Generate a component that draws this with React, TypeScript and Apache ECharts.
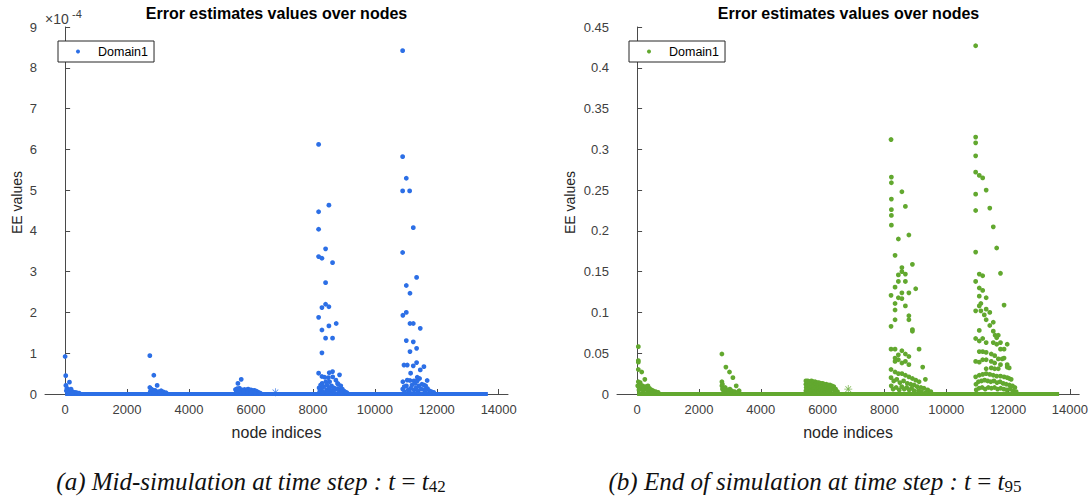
import React, { useEffect, useRef } from "react";
import * as echarts from "echarts";

// ---------- data ----------
const chartTitle = "Error estimates values over nodes";
const xAxisName = "node indices";
const yAxisName = "EE values";
const legendName = "Domain1";
const xTickValues = [0, 2000, 4000, 6000, 8000, 10000, 12000, 14000];
const xRange = [-650, 14300];
const midYRange = [0, 9]; // in units of 1e-4
const midYStep = 1;
const endYRange = [0, 0.45];
const endYStep = 0.05;
const baselineNodes = [0, 13650]; // first / last node index; EE ~ 0 between

// (a) mid-simulation, values x 1e-4
const midNearStart = [
  [0, 0.92], [20, 0.45], [25, 0.21], [140, 0.29], [60, 0.14], [110, 0.1], [170, 0.08], [210, 0.06],
  [260, 0.05], [320, 0.04], [90, 0.06], [40, 0.08], [130, 0.04], [380, 0.03], [450, 0.02], [190, 0.12], [230, 0.03],
];
const midNear2700 = [
  [2735, 0.94], [2864, 0.46], [2971, 0.21], [2735, 0.16], [2760, 0.07], [2810, 0.1], [2900, 0.09], [3010, 0.06],
  [3100, 0.08], [3180, 0.05], [3260, 0.03], [2745, 0.04], [2850, 0.04], [3050, 0.03], [2780, 0.12],
];
const midNear6000 = [
  [5579, 0.26], [5686, 0.36], [5500, 0.11], [5530, 0.07], [5560, 0.13], [5632, 0.14], [5660, 0.08], [5720, 0.1],
  [5793, 0.11], [5830, 0.08], [5868, 0.1], [5910, 0.12], [5950, 0.09], [6000, 0.1], [6061, 0.08], [6110, 0.09],
  [6168, 0.07], [6220, 0.05], [5600, 0.05], [5700, 0.04], [5760, 0.06], [5900, 0.05], [5980, 0.04], [6040, 0.05],
  [6130, 0.04], [6260, 0.03], [6300, 0.02], [5520, 0.03],
];
const midNear8500 = [
  [8185, 6.12], [8517, 4.63], [8185, 4.47], [8185, 4.04], [8410, 3.56], [8185, 3.37], [8292, 3.33], [8635, 3.22],
  [8410, 2.73], [8410, 2.2], [8517, 2.14], [8292, 2.12], [8185, 1.88], [8753, 1.73], [8517, 1.67], [8292, 1.57],
  [8410, 1.37], [8635, 1.37], [8292, 1.01],
  [8185, 0.51], [8527, 0.52], [8635, 0.55], [8860, 0.47], [8292, 0.43], [8380, 0.41], [8500, 0.4], [8640, 0.42],
  [8742, 0.34], [8300, 0.26], [8420, 0.3], [8540, 0.3], [8796, 0.26], [8250, 0.22], [8460, 0.22], [8600, 0.2],
  [8820, 0.24], [8900, 0.2], [8200, 0.15], [8280, 0.12], [8350, 0.18], [8440, 0.1], [8520, 0.14], [8580, 0.09],
  [8680, 0.15], [8740, 0.11], [8800, 0.13], [8880, 0.09], [8950, 0.12], [9000, 0.07], [9050, 0.05], [9100, 0.03],
  [8220, 0.06], [8330, 0.05], [8480, 0.06], [8660, 0.05], [8850, 0.04], [8930, 0.05],
];
const midNear11000 = [
  [10898, 8.42], [10898, 5.82], [11016, 5.29], [10898, 4.98], [11124, 4.98], [11242, 4.08], [10898, 3.47],
  [11349, 2.86], [11016, 2.66], [11135, 2.47], [11016, 2.0], [10905, 1.93], [11135, 1.73], [11242, 1.73],
  [11467, 1.61], [11016, 1.31], [11242, 1.28], [11349, 1.12], [11135, 1.04],
  [10941, 0.71], [11048, 0.71], [11241, 0.69], [11349, 0.77], [11585, 0.67], [11467, 0.59], [11156, 0.51],
  [11370, 0.41], [11445, 0.38], [11048, 0.34], [11263, 0.32], [11370, 0.32], [10905, 0.3], [11135, 0.33],
  [11690, 0.33], [11585, 0.22], [11640, 0.2], [11020, 0.2], [11200, 0.22], [11300, 0.26], [11420, 0.2],
  [11520, 0.24], [10900, 0.12], [10950, 0.18], [11080, 0.1], [11160, 0.14], [11260, 0.1], [11330, 0.15],
  [11400, 0.08], [11500, 0.12], [11600, 0.1], [11700, 0.13], [11760, 0.08], [11820, 0.06], [11900, 0.04],
  [10960, 0.06], [11120, 0.05], [11380, 0.05], [11620, 0.05],
];
const midStar = [[6790, 0.04]];

// (b) end of simulation
const endNearStart = [
  [40, 0.058], [40, 0.041], [40, 0.039], [40, 0.03], [150, 0.027], [40, 0.015], [100, 0.014], [250, 0.018],
  [350, 0.01], [180, 0.01], [80, 0.008], [140, 0.006], [220, 0.007], [300, 0.006], [400, 0.007], [460, 0.005],
  [520, 0.004], [600, 0.003], [680, 0.002], [20, 0.01], [60, 0.005], [120, 0.011], [200, 0.004], [280, 0.009],
  [340, 0.004], [420, 0.003], [480, 0.002],
];
const endNear2700 = [
  [2743, 0.049], [2872, 0.033], [2989, 0.027], [3099, 0.02], [3206, 0.01], [2743, 0.015], [2743, 0.01],
  [2760, 0.006], [2800, 0.004], [2850, 0.008], [2900, 0.005], [2950, 0.003], [3000, 0.006], [3060, 0.004],
  [3150, 0.003], [3300, 0.004], [3250, 0.002], [2760, 0.012],
];
const endNear6000 = [
  [5460, 0.016], [5460, 0.012], [5470, 0.008], [5460, 0.004], [5520, 0.016], [5530, 0.013], [5520, 0.009],
  [5510, 0.005], [5580, 0.015], [5590, 0.011], [5580, 0.007], [5570, 0.003], [5640, 0.016], [5650, 0.012],
  [5640, 0.008], [5630, 0.004], [5700, 0.015], [5710, 0.01], [5700, 0.006], [5760, 0.015], [5770, 0.012],
  [5760, 0.007], [5750, 0.003], [5820, 0.014], [5830, 0.01], [5820, 0.005], [5880, 0.014], [5890, 0.011],
  [5880, 0.007], [5870, 0.003], [5940, 0.013], [5950, 0.009], [5940, 0.005], [6000, 0.013], [6010, 0.01],
  [6000, 0.006], [5990, 0.003], [6060, 0.012], [6070, 0.008], [6060, 0.004], [6120, 0.012], [6130, 0.009],
  [6120, 0.005], [6180, 0.011], [6190, 0.007], [6180, 0.003], [6240, 0.011], [6250, 0.008], [6240, 0.004],
  [6300, 0.01], [6310, 0.006], [6360, 0.009], [6370, 0.005], [6420, 0.006], [6430, 0.003], [6480, 0.003],
];
const endNear8500 = [
  [8214, 0.312], [8225, 0.266], [8225, 0.259], [8565, 0.248], [8225, 0.239], [8678, 0.23], [8225, 0.226],
  [8225, 0.219], [8225, 0.207], [8791, 0.195], [8451, 0.19], [8344, 0.17], [8905, 0.159], [8565, 0.155],
  [8565, 0.15], [8678, 0.147], [8451, 0.146], [8451, 0.138], [8678, 0.138], [8344, 0.131], [9012, 0.129],
  [8565, 0.124], [8791, 0.124], [8214, 0.121], [8451, 0.118], [8565, 0.117], [8344, 0.111], [8678, 0.108],
  [8344, 0.103], [8791, 0.096], [8791, 0.091], [8344, 0.091], [8214, 0.083], [8905, 0.079], [8905, 0.077],
  [8214, 0.055], [8344, 0.055], [9121, 0.055], [8565, 0.053], [8678, 0.049], [8451, 0.048], [8791, 0.046],
  [8344, 0.044], [8451, 0.042], [8678, 0.04], [8344, 0.04], [8565, 0.038], [8791, 0.036], [9238, 0.033],
  [8214, 0.03], [8344, 0.027], [8451, 0.025], [8565, 0.025], [8678, 0.023], [8791, 0.021], [8905, 0.019],
  [9012, 0.017], [9121, 0.015], [9325, 0.018], [8214, 0.02], [8300, 0.016], [8400, 0.018], [8500, 0.014],
  [8620, 0.016], [8740, 0.013], [8850, 0.012], [8960, 0.011], [9060, 0.009], [9180, 0.008], [9280, 0.007],
  [9400, 0.005], [9500, 0.003], [8220, 0.01], [8280, 0.006], [8380, 0.008], [8480, 0.005], [8560, 0.009],
  [8640, 0.006], [8720, 0.008], [8800, 0.005], [8880, 0.007], [8960, 0.004], [9100, 0.004], [9200, 0.003],
  [9350, 0.002],
];
const endNear11000 = [
  [10951, 0.427], [10951, 0.315], [10951, 0.308], [10951, 0.292], [10951, 0.272], [11068, 0.268],
  [11178, 0.265], [11291, 0.25], [10951, 0.245], [11408, 0.228], [10951, 0.225], [11521, 0.205],
  [11631, 0.179], [10951, 0.174], [11754, 0.148], [11068, 0.147], [11178, 0.145], [10951, 0.138],
  [11068, 0.13], [11178, 0.127], [11068, 0.12], [11291, 0.118], [11120, 0.111], [11068, 0.108],
  [11291, 0.104], [10951, 0.102], [11120, 0.102], [11408, 0.1], [11230, 0.097], [11291, 0.091],
  [11870, 0.109], [11521, 0.088], [11408, 0.084], [11521, 0.077], [11068, 0.078], [11580, 0.072],
  [11683, 0.072], [11631, 0.069], [10951, 0.068], [11068, 0.065], [11178, 0.068], [11291, 0.063],
  [11521, 0.063], [11631, 0.061], [11754, 0.063], [11971, 0.061], [11754, 0.055], [11870, 0.055],
  [11068, 0.052], [11178, 0.052], [11291, 0.051], [11456, 0.049], [11566, 0.047], [11683, 0.043],
  [11809, 0.043], [11870, 0.044], [10951, 0.04], [11068, 0.039], [11178, 0.042], [11291, 0.042],
  [11456, 0.04], [11566, 0.038], [11754, 0.036], [11971, 0.036], [11291, 0.031], [11456, 0.032],
  [11566, 0.031], [11683, 0.031], [11971, 0.033], [12036, 0.032], [10951, 0.021], [11068, 0.023],
  [11178, 0.024], [11291, 0.025], [11408, 0.024], [11521, 0.023], [11631, 0.022], [11754, 0.022],
  [11870, 0.021], [11971, 0.02], [12036, 0.019], [12100, 0.018], [10960, 0.012], [11040, 0.015],
  [11140, 0.016], [11240, 0.017], [11340, 0.016], [11440, 0.015], [11540, 0.016], [11640, 0.014],
  [11740, 0.015], [11840, 0.013], [11940, 0.012], [12040, 0.011], [12140, 0.01], [12220, 0.008],
  [10970, 0.005], [11060, 0.007], [11160, 0.008], [11260, 0.006], [11360, 0.008], [11460, 0.007],
  [11560, 0.008], [11660, 0.006], [11760, 0.007], [11860, 0.006], [11960, 0.005], [12060, 0.006],
  [12160, 0.004], [12260, 0.003],
];
const endStar = [[6830, 0.006]];

const captionA = "(a) Mid-simulation at time step :";
const captionB = "(b) End of simulation at time step :";
const stepA = "42";
const stepB = "95";

// ---------- styles ----------
const BLUE = "#2C6FE6";
const GREEN = "#62A82F";
const AXIS = "#4a4a4a";
const LABEL = "#404040";
const SANS = "'Liberation Sans', Arial, Helvetica, sans-serif";
const SERIF = "'Liberation Serif', 'Times New Roman', serif";
const STAR =
  "path://M4.5 0H5.5V10H4.5Z M0 4.5H10V5.5H0Z M1.1 1.8L1.8 1.1L8.9 8.2L8.2 8.9Z M8.2 1.1L8.9 1.8L1.8 8.9L1.1 8.2Z";

const GRID_TOP = 27;
const GRID_H = 367;
const GRID_W = 463;
const GRID_LEFTS = [45, 617];

function fmt(v: number) {
  return String(parseFloat(v.toFixed(2)));
}

function xAxisOpt(gridIndex: number) {
  return {
    type: "value",
    gridIndex,
    min: xRange[0],
    max: xRange[1],
    name: xAxisName,
    nameLocation: "middle",
    nameGap: 30,
    nameTextStyle: { fontSize: 16, color: "#262626", fontFamily: SANS },
    axisLine: { show: true, onZero: false, lineStyle: { color: AXIS, width: 1 } },
    axisTick: { show: true, inside: true, length: 5, customValues: xTickValues, lineStyle: { color: AXIS } },
    axisLabel: {
      customValues: xTickValues,
      margin: 9,
      fontSize: 13,
      color: LABEL,
      fontFamily: SANS,
      formatter: (v: number) => String(Math.round(v)),
    },
    splitLine: { show: false },
  };
}

function yAxisOpt(gridIndex: number, range: number[], step: number, nameGap: number) {
  return {
    type: "value",
    gridIndex,
    min: range[0],
    max: range[1],
    interval: step,
    name: yAxisName,
    nameLocation: "middle",
    nameGap,
    nameTextStyle: { fontSize: 14, color: "#262626", fontFamily: SANS, padding: [0, 0, 0, 16] },
    axisLine: { show: true, lineStyle: { color: AXIS, width: 1 } },
    axisTick: { show: true, inside: true, length: 5, lineStyle: { color: AXIS } },
    axisLabel: { margin: 8, fontSize: 13, color: LABEL, fontFamily: SANS, formatter: fmt },
    splitLine: { show: false },
  };
}

function seriesFor(idx: number, color: string, clusters: number[][][], star: number[][]) {
  const points = ([] as number[][]).concat(...clusters);
  return [
    {
      name: "baseline" + idx,
      type: "line",
      xAxisIndex: idx,
      yAxisIndex: idx,
      data: baselineNodes.map((n) => [n, 0]),
      symbol: "none",
      clip: false,
      silent: true,
      lineStyle: { color, width: 4 },
      z: 2,
    },
    {
      name: legendName,
      type: "scatter",
      xAxisIndex: idx,
      yAxisIndex: idx,
      data: points,
      symbol: "circle",
      symbolSize: 4.8,
      itemStyle: { color, opacity: 1 },
      silent: true,
      z: 3,
    },
    {
      name: "star" + idx,
      type: "scatter",
      xAxisIndex: idx,
      yAxisIndex: idx,
      data: star,
      symbol: STAR,
      symbolSize: 8,
      itemStyle: { color },
      silent: true,
      z: 3,
    },
  ];
}

function legendOpt(left: number, color: string) {
  return {
    left,
    top: 41,
    orient: "vertical",
    data: [{ name: legendName, itemStyle: { color } }],
    icon: "circle",
    itemWidth: 4,
    itemHeight: 4,
    padding: [4, 6, 4, 18],
    borderColor: "#262626",
    borderWidth: 1,
    borderRadius: 0,
    backgroundColor: "#ffffff",
    selectedMode: false,
    textStyle: { fontSize: 12.5, color: "#000", fontFamily: SANS, padding: [0, 0, 0, 13] },
  };
}

function caption(x: number, label: string, step: string) {
  return {
    type: "text",
    x,
    y: 481,
    style: {
      text: `{i|${label}} {i|t} = {i|t}{s|${step}}`,
      align: "center",
      verticalAlign: "middle",
      fontFamily: SERIF,
      fontSize: 25,
      fill: "#111",
      rich: {
        i: { fontFamily: SERIF, fontSize: 25, fontStyle: "italic", fill: "#111" },
        s: { fontFamily: SERIF, fontSize: 17, fill: "#111", padding: [10, 0, 0, 0] },
      },
    },
  };
}

export default function App() {
  const ref = useRef<HTMLDivElement>(null);

  useEffect(() => {
    if (!ref.current) return;
    const chart = echarts.init(ref.current, undefined, { renderer: "svg" });
    const option = {
      animation: false,
      backgroundColor: "#ffffff",
      title: [
        {
          text: chartTitle,
          left: GRID_LEFTS[0] + GRID_W / 2,
          top: 5,
          textAlign: "center",
          padding: 0,
          textStyle: { fontSize: 16, fontWeight: "bold", color: "#000", fontFamily: SANS },
        },
        {
          text: chartTitle,
          left: GRID_LEFTS[1] + GRID_W / 2,
          top: 5,
          textAlign: "center",
          padding: 0,
          textStyle: { fontSize: 16, fontWeight: "bold", color: "#000", fontFamily: SANS },
        },
      ],
      legend: [legendOpt(58, BLUE), legendOpt(629, GREEN)],
      grid: GRID_LEFTS.map((left) => ({ left, top: GRID_TOP, width: GRID_W, height: GRID_H, containLabel: false })),
      xAxis: [xAxisOpt(0), xAxisOpt(1)],
      yAxis: [yAxisOpt(0, midYRange, midYStep, 21), yAxisOpt(1, endYRange, endYStep, 40)],
      series: [
        ...seriesFor(0, BLUE, [midNearStart, midNear2700, midNear6000, midNear8500, midNear11000], midStar),
        ...seriesFor(1, GREEN, [endNearStart, endNear2700, endNear6000, endNear8500, endNear11000], endStar),
      ],
      graphic: [
        {
          type: "text",
          x: 45,
          y: 19,
          style: { text: "×10", fontSize: 14, fontFamily: SANS, fill: LABEL, verticalAlign: "middle" },
        },
        {
          type: "text",
          x: 72,
          y: 13.5,
          style: { text: "-4", fontSize: 11, fontFamily: SANS, fill: LABEL, verticalAlign: "middle" },
        },
        caption(251, captionA, stepA),
        caption(815, captionB, stepB),
      ],
    };
    chart.setOption(option as any);
    return () => chart.dispose();
  }, []);

  return (
    <div
      ref={ref}
      style={{ position: "fixed", left: 0, top: 0, width: 1091, height: 502, background: "#fff" }}
    />
  );
}
